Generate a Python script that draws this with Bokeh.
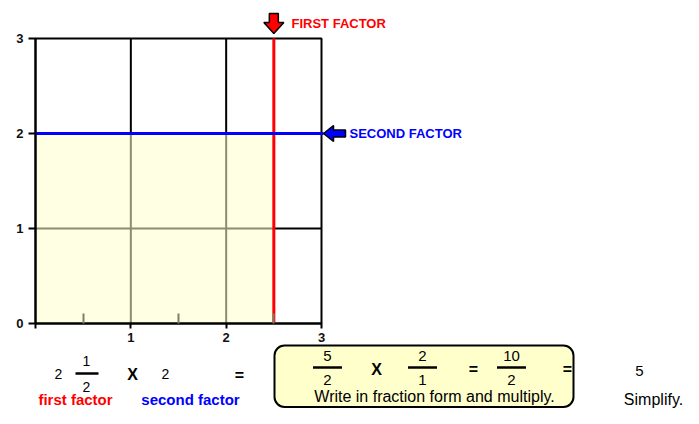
from bokeh.plotting import figure
from bokeh.models import Range1d, FixedTicker, Label, BoxAnnotation, LinearAxis
from bokeh.embed import file_html
from bokeh.resources import INLINE

# ---------------- data ----------------
first_whole = 2
first_num = 1
first_den = 2
second_factor = 2
first_factor = first_whole + first_num / first_den      # 2.5
frac_nums = [5, 2, 10]
frac_dens = [2, 1, 2]
result = 5
x_ticks = [0, 1, 2, 3]
x_minor = [0.5, 1.5, 2.5]
y_ticks = [0, 1, 2, 3]
grid_ticks = [1, 2]
x_lim = [0, 3]
y_lim = [0, 3]
arrow_labels = ["FIRST FACTOR", "SECOND FACTOR"]
factor_labels = ["first factor", "second factor"]
box_note = "Write in fraction form and multiply."
simplify_note = "Simplify."

# ---------------- layout helpers ----------------
W, H = 683, 408
CL, CT, CW, CH = 35, 38, 286, 285          # chart area in canvas px
KX, KY = 3 / CW, 3 / CH


def X(sx):  # canvas px -> data x
    return (sx - CL) * KX


def Y(sy):  # canvas px -> data y
    return (CT + CH - sy) * KY


FONT = "Liberation Sans"
RED = "#FF0000"
BLUE = "#0000FF"

p = figure(width=W, height=H, x_range=Range1d(X(0), X(W)), y_range=Range1d(Y(H), Y(0)),
           output_backend="svg", toolbar_location=None,
           x_axis_type=None, y_axis_type=None, min_border=0)
p.background_fill_color = "white"
p.border_fill_color = "white"
p.outline_line_color = None

# grid lines (under the shading)
p.segment(x0=grid_ticks, y0=[y_lim[0]] * len(grid_ticks), x1=grid_ticks, y1=[y_lim[1]] * len(grid_ticks),
          line_color="black", line_width=2)
p.segment(x0=[x_lim[0]] * len(grid_ticks), y0=grid_ticks, x1=[x_lim[1]] * len(grid_ticks), y1=grid_ticks,
          line_color="black", line_width=2)

# shaded product area
p.quad(left=[0], right=[first_factor], bottom=[0], top=[second_factor],
       fill_color="#FFFFCC", fill_alpha=0.55, line_color=None)

# chart border
p.quad(left=[x_lim[0]], right=[x_lim[1]], bottom=[y_lim[0]], top=[y_lim[1]],
       fill_color=None, line_color="black", line_width=2)

# factor lines
p.segment(x0=[first_factor], y0=[y_lim[0]], x1=[first_factor], y1=[y_lim[1]],
          line_color=RED, line_width=3)
p.segment(x0=[x_lim[0]], y0=[second_factor], x1=[x_lim[1] + 2 * KX], y1=[second_factor],
          line_color=BLUE, line_width=3)

# axes
xaxis = LinearAxis(fixed_location=0, bounds=(x_lim[0], x_lim[1]),
                   ticker=FixedTicker(ticks=x_ticks, minor_ticks=x_minor),
                   major_label_overrides={0: ""})
yaxis = LinearAxis(fixed_location=0, bounds=(y_lim[0], y_lim[1]),
                   ticker=FixedTicker(ticks=y_ticks, minor_ticks=[]))
for ax in (xaxis, yaxis):
    ax.axis_line_color = "black"
    ax.axis_line_width = 2
    ax.major_tick_line_color = "black"
    ax.major_tick_line_width = 2
    ax.major_tick_in = 0
    ax.major_label_text_font = FONT
    ax.major_label_text_font_size = "13px"
    ax.major_label_text_font_style = "bold"
    ax.major_label_text_color = "#111111"
xaxis.major_tick_out = 5
xaxis.minor_tick_in = 10
xaxis.minor_tick_out = 0
xaxis.minor_tick_line_color = "#7f7f66"
xaxis.minor_tick_line_width = 2
xaxis.major_label_standoff = 4
yaxis.major_tick_out = 7
yaxis.major_label_standoff = 5
p.add_layout(xaxis, "below")
p.add_layout(yaxis, "left")

# block arrows (px offsets -> data)
tip_y = y_lim[1] + 5 * KY
red_pts = [(-4.5, -20), (4.5, -20), (4.5, -11), (10, -11), (0, 0), (-10, -11), (-4.5, -11)]
tip_x = x_lim[1] + 2 * KX
blue_pts = [(0, 0), (10, -8), (10, -3.5), (22, -3.5), (22, 3.5), (10, 3.5), (10, 8)]
p.patches(xs=[[first_factor + dx * KX for dx, dy in red_pts],
              [tip_x + dx * KX for dx, dy in blue_pts]],
          ys=[[tip_y - dy * KY for dx, dy in red_pts],
              [second_factor - dy * KY for dx, dy in blue_pts]],
          fill_color=[RED, BLUE], line_color="black", line_width=1.5)


def label(sx, sy, text, size, color="black", bold=False, align="center"):
    p.add_layout(Label(x=X(sx), y=Y(sy), text=str(text), text_align=align,
                       text_baseline="middle", text_font=FONT,
                       text_font_size=f"{size}px", text_color=color,
                       text_font_style="bold" if bold else "normal"))


def bar(cx, sy, half):
    p.segment(x0=[X(cx - half)], y0=[Y(sy)], x1=[X(cx + half)], y1=[Y(sy)],
              line_color="black", line_width=2.5)


label(291, 23, arrow_labels[0], 13, RED, True, "left")
label(349, 133, arrow_labels[1], 13, BLUE, True, "left")

# first equation: mixed number x whole
label(58, 373, first_whole, 14)
label(86, 360, first_num, 14)
bar(86.5, 373, 11.5)
label(86, 386, first_den, 14)
label(132, 374, "X", 16, bold=True)
label(165, 373, second_factor, 14)
label(239, 375, "=", 16, bold=True)
label(75, 399, factor_labels[0], 15, RED, True)
label(190, 399, factor_labels[1], 15, BLUE, True)

# boxed fraction work
p.add_layout(BoxAnnotation(left=X(274), right=X(573), top=Y(345), bottom=Y(406.5),
                           fill_color="#FFFFCC", fill_alpha=1, line_color="black",
                           line_alpha=1, line_width=2, border_radius=10, level="underlay"))
frac_cx = [327, 422, 511]
for cx, n, d in zip(frac_cx, frac_nums, frac_dens):
    label(cx, 355, n, 15)
    bar(cx, 367, 14.5)
    label(cx, 379, d, 15)
label(376, 369, "X", 16, bold=True)
label(473, 369, "=", 16, bold=True)
label(567, 369, "=", 16, bold=True)
label(434, 396, box_note, 16)

label(639, 370, result, 15)
label(653, 399, simplify_note, 16)

open("out.html", "w").write(file_html(p, INLINE))
